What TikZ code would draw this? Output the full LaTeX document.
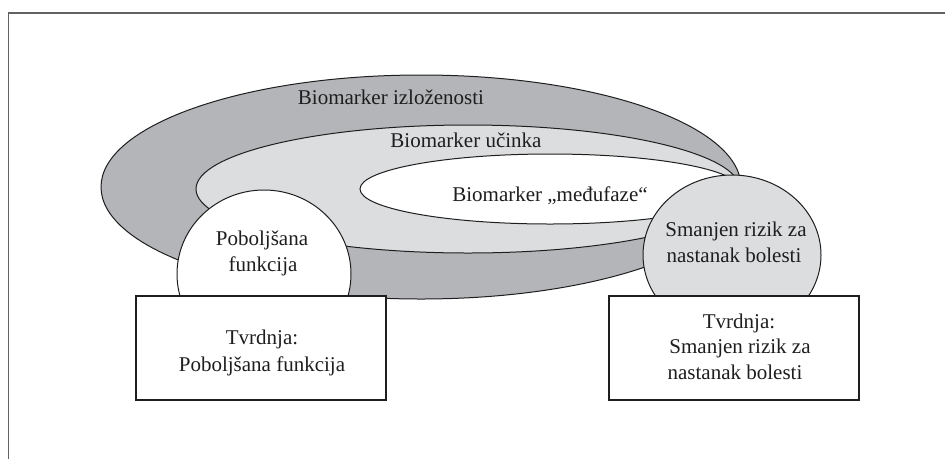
\documentclass[tikz,border=0pt]{standalone}
\usepackage{fontspec}
\setmainfont{Liberation Serif}
\usetikzlibrary{shapes.geometric}
\definecolor{darkband}{HTML}{B4B5B8}
\definecolor{lightband}{HTML}{DCDDDF}
\definecolor{framegray}{HTML}{626262}
\definecolor{ink}{HTML}{1E1E1E}
\begin{document}
\begin{tikzpicture}[x=1pt,y=-1pt,
  ring/.style={ellipse,draw=ink,line width=1pt,inner sep=0pt},
  box/.style={rectangle,draw=ink,fill=white,line width=1.3pt,inner sep=0pt,minimum width=250pt,minimum height=104pt},
  label/.style={anchor=base,inner sep=0pt,text=ink,font=\fontsize{21}{26}\selectfont}]
\useasboundingbox (0,0) rectangle (945,459);
\draw[framegray,line width=1.6pt] (8.5,459) -- (8.5,13) -- (945,13);
% nested markers
\node[ring,fill=darkband,minimum width=640pt,minimum height=224pt] (outer) at (421,187) {};
\node[ring,fill=lightband,minimum width=544pt,minimum height=128pt] (middle) at (468,189) {};
\node[ring,fill=white,minimum width=380pt,minimum height=70pt] (inner) at (550,189) {};
% claim circles
\node[ring,fill=white,minimum width=174pt,minimum height=168pt] (lcirc) at (264,274) {};
\node[ring,fill=lightband,minimum width=178pt,minimum height=160pt] (rcirc) at (732,255) {};
% boxes
\node[box] (lbox) at (261,348) {};
\node[box] (rbox) at (734,348) {};
% texts
\node[label] (t1) at (391,104) {Biomarker izloženosti};
\node[label] (t2) at (466,147) {Biomarker učinka};
\node[label] (t3) at (550,201) {Biomarker „međufaze“};
\node[label] (lc1) at (262,245) {Poboljšana};
\node[label] (lc2) at (263,271) {funkcija};
\node[label] (rc1) at (736,236) {Smanjen rizik za};
\node[label] (rc2) at (734,262) {nastanak bolesti};
\node[label] (lb1) at (262,344) {Tvrdnja:};
\node[label] (lb2) at (262,371) {Poboljšana funkcija};
\node[label] (rb1) at (739,328) {Tvrdnja:};
\node[label] (rb2) at (740,353) {Smanjen rizik za};
\node[label] (rb3) at (735,379) {nastanak bolesti};
\end{tikzpicture}
\end{document}
